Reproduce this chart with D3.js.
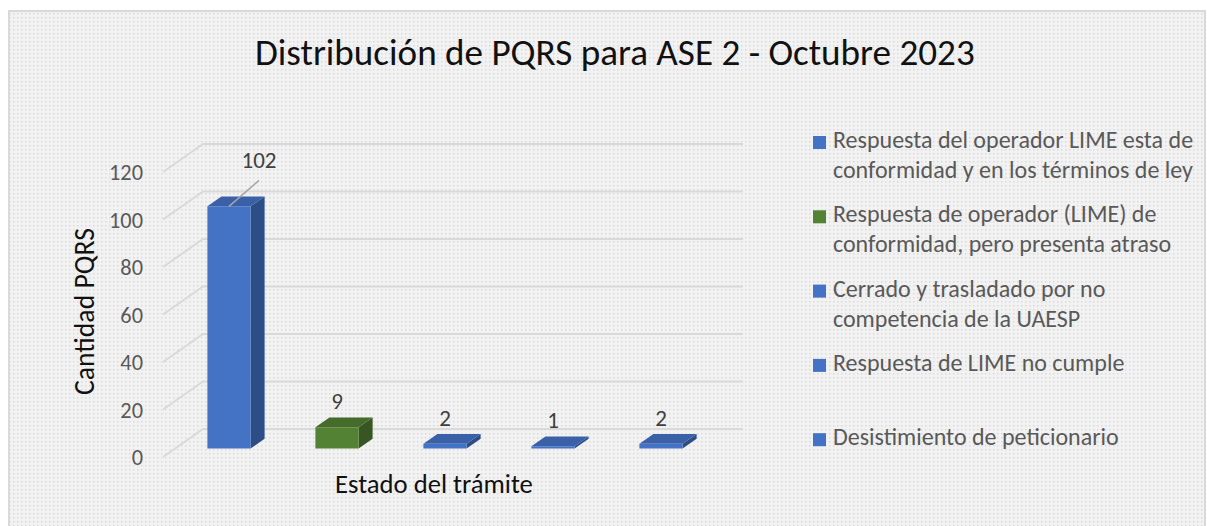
<!DOCTYPE html>
<html>
<head>
<meta charset="utf-8">
<script src="https://cdn.jsdelivr.net/npm/d3@7"></script>
<style>
  body { margin: 0; background: #fff; }
  text { font-family: Carlito, Lato, "Noto Sans", sans-serif; }
</style>
</head>
<body>
<svg id="chart" width="1207" height="526"></svg>
<script>
// chart values
var categories = [
  ["Respuesta del operador LIME esta de", "conformidad y en los términos de ley"],
  ["Respuesta de operador (LIME) de", "conformidad, pero presenta atraso"],
  ["Cerrado y trasladado por no", "competencia de la UAESP"],
  ["Respuesta de LIME no cumple"],
  ["Desistimiento de peticionario"]
];
var values = [102, 9, 2, 1, 2];
var barColors = ["blue", "green", "blue", "blue", "blue"];
var yTicks = [0, 20, 40, 60, 80, 100, 120];

var titleText = "Distribución de PQRS para ASE 2 - Octubre 2023";
var yTitle = "Cantidad PQRS";
var xTitle = "Estado del trámite";

var shades = {
  blue:  { front: "#4472c4", top: "#3a60a8", side: "#2d4d86" },
  green: { front: "#548235", top: "#456c2b", side: "#375623" }
};

// 3d offsets for the full depth of the floor
var DX = 40, DY = -28;
var barD0 = 0.3, barD1 = 0.65;

var svg = d3.select("#chart");

// dotted background
var defs = svg.append("defs");
var pat = defs.append("pattern").attr("id", "dots")
  .attr("width", 4).attr("height", 4).attr("patternUnits", "userSpaceOnUse");
pat.append("rect").attr("width", 4).attr("height", 4).attr("fill", "#f2f2f2");
pat.append("rect").attr("x", 1).attr("y", 1).attr("width", 1.5).attr("height", 1.5).attr("fill", "#dadada");

svg.append("rect")
  .attr("x", 9).attr("y", 11).attr("width", 1196).attr("height", 530)
  .attr("fill", "url(#dots)")
  .attr("stroke", "#d9d9d9").attr("stroke-width", 2);

function fitSize(sel, width, start) {
  sel.attr("font-size", start);
  var w = sel.node().getComputedTextLength();
  var s = start * width / w;
  sel.attr("font-size", s);
  return s;
}

var x = d3.scaleBand()
  .domain(d3.range(values.length))
  .range([163, 703])
  .paddingInner(0.6)
  .paddingOuter(0.3);

var y = d3.scaleLinear()
  .domain([0, 120])
  .range([457, 172]);

// gridlines: side wall diagonal + back wall
var grid = svg.append("g").attr("stroke", "#d9d9d9").attr("stroke-width", 2).attr("fill", "none");
yTicks.forEach(function(t) {
  grid.append("path").attr("d",
    "M" + x.range()[0] + "," + y(t) +
    "L" + (x.range()[0] + DX) + "," + (y(t) + DY) +
    "L" + (x.range()[1] + DX) + "," + (y(t) + DY));
});

// tick labels
var ticks = svg.append("g").selectAll("text").data(yTicks).join("text")
  .attr("x", 143).attr("y", function(d) { return y(d); })
  .attr("dy", "0.36em")
  .attr("text-anchor", "end")
  .attr("fill", "#595959")
  .text(function(d) { return d; });
var tickSize = fitSize(ticks.filter(function(d) { return d === 120; }), 34, 20);
ticks.attr("font-size", tickSize);

function pt(px, v, d) {
  return [px + d * DX, y(v) + d * DY];
}

// bars
var bw = x.bandwidth();
var bars = svg.append("g");
values.forEach(function(v, i) {
  var c = shades[barColors[i]];
  var x0 = x(i), x1 = x(i) + bw;
  var face = function(pts, fill) {
    bars.append("path")
      .attr("d", "M" + pts.map(function(p) { return p.join(","); }).join("L") + "Z")
      .attr("fill", fill);
  };
  // side
  face([pt(x1, 0, barD0), pt(x1, 0, barD1), pt(x1, v, barD1), pt(x1, v, barD0)], c.side);
  // top
  face([pt(x0, v, barD0), pt(x1, v, barD0), pt(x1, v, barD1), pt(x0, v, barD1)], c.top);
  // front
  face([pt(x0, 0, barD0), pt(x1, 0, barD0), pt(x1, v, barD0), pt(x0, v, barD0)], c.front);
});

// data labels
var maxIdx = values.indexOf(d3.max(values));
var labels = svg.append("g");
values.forEach(function(v, i) {
  var cx = x(i) + bw / 2 + barD0 * DX;
  var ly = y(v) + barD1 * DY - 8;
  var lx = cx;
  if (i === maxIdx) {
    // label pushed out with a leader line
    var anchor = pt(x(i) + bw / 2, v, barD0);
    lx = anchor[0] + 30;
    ly = anchor[1] - 38;
    labels.append("line")
      .attr("x1", lx).attr("y1", ly + 12)
      .attr("x2", anchor[0]).attr("y2", anchor[1])
      .attr("stroke", "#a6a6a6").attr("stroke-width", 1.5);
  }
  labels.append("text")
    .attr("x", lx).attr("y", ly)
    .attr("text-anchor", "middle")
    .attr("fill", "#404040")
    .text(v);
});
var lbl = labels.selectAll("text");
var lblSize = fitSize(lbl.filter(function(d, k) { return k === maxIdx; }), 35, 20);
lbl.attr("font-size", lblSize);

// title
var title = svg.append("text")
  .attr("x", 255).attr("y", 65)
  .attr("fill", "#111")
  .text(titleText);
fitSize(title, 720, 34);

// axis titles
var yt = svg.append("text")
  .attr("transform", "translate(94,395) rotate(-90)")
  .attr("fill", "#111")
  .text(yTitle);
fitSize(yt, 167, 20);

var xt = svg.append("text")
  .attr("x", 335).attr("y", 493)
  .attr("fill", "#111")
  .text(xTitle);
fitSize(xt, 198, 20);

// legend
var legend = svg.append("g");
var lgSize = null;
categories.forEach(function(lines, i) {
  var base = 148 + i * 74.3;
  legend.append("rect")
    .attr("x", 813).attr("y", base - 12)
    .attr("width", 13).attr("height", 13)
    .attr("fill", shades[barColors[i]].front);
  lines.forEach(function(line, j) {
    var t = legend.append("text")
      .attr("x", 833).attr("y", base + j * 30)
      .attr("fill", "#595959")
      .text(line);
    if (i === 0 && j === 1) lgSize = fitSize(t, 360, 20);
  });
});
legend.selectAll("text").attr("font-size", lgSize);
</script>
</body>
</html>
